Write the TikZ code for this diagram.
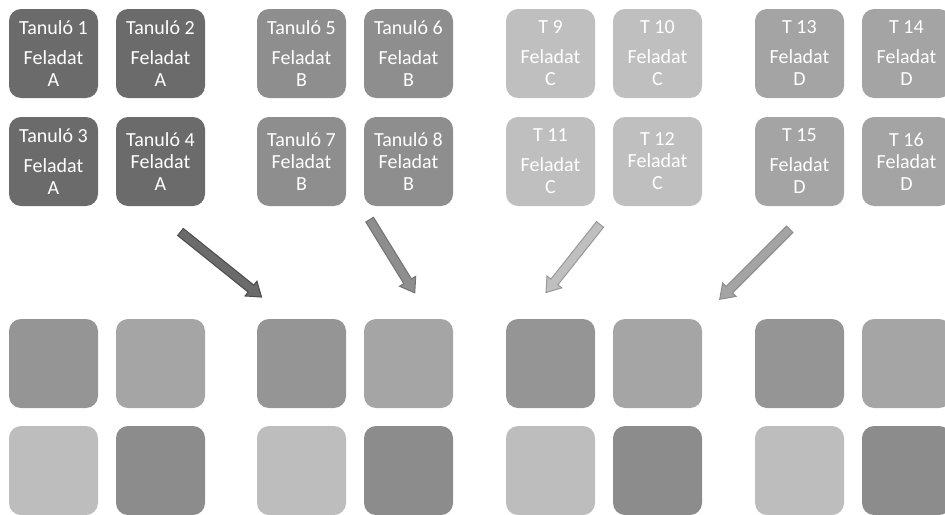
\documentclass[tikz,border=0pt]{standalone}
\usepackage{fontspec}
\setmainfont{Carlito}
\usetikzlibrary{shapes.arrows}
\definecolor{grpA}{HTML}{6B6B6B}
\definecolor{grpB}{HTML}{8E8E8E}
\definecolor{grpC}{HTML}{BFBFBF}
\definecolor{grpD}{HTML}{A4A4A4}
\definecolor{mixA}{HTML}{959595}
\definecolor{mixB}{HTML}{A5A5A5}
\definecolor{mixC}{HTML}{BDBDBD}
\definecolor{mixD}{HTML}{8C8C8C}
\tikzstyle{card}=[rounded corners=12pt, minimum width=89pt, minimum height=89pt, inner sep=0pt, text=white, align=center, font=\fontsize{20}{22}\selectfont]
\tikzstyle{blank}=[rounded corners=12pt, minimum width=89pt, minimum height=89pt, inner sep=0pt]
\tikzstyle{bigarrow}=[single arrow, single arrow head extend=5pt, single arrow tip angle=70, minimum width=18pt, inner xsep=0pt, inner ysep=4pt, line width=1pt, sloped, allow upside down, midway]

\begin{document}
\begin{tikzpicture}[x=1pt,y=-1pt]
  \clip (0,0) rectangle (945,514);

  % task A
  \begin{scope}[xshift=0pt]
  \node (t1) [card, fill=grpA] at (53.5,53.5) {Tanuló 1\\[8pt]Feladat\\A};
  \node (t2) [card, fill=grpA] at (160.5,53.5) {Tanuló 2\\[8pt]Feladat\\A};
  \node (t3) [card, fill=grpA] at (53.5,161.5) {Tanuló 3\\[8pt]Feladat\\A};
  \node (t4) [card, fill=grpA] at (160.5,161.5) {Tanuló 4\\Feladat\\A};
  \node (b1) [blank, fill=mixA] at (53.5,363.5) {};
  \node (b2) [blank, fill=mixB] at (160.5,363.5) {};
  \node (b3) [blank, fill=mixC] at (53.5,470.5) {};
  \node (b4) [blank, fill=mixD] at (160.5,470.5) {};
  \end{scope}

  % task B
  \begin{scope}[xshift=248pt]
  \node (t5) [card, fill=grpB] at (53.5,53.5) {Tanuló 5\\[8pt]Feladat\\B};
  \node (t6) [card, fill=grpB] at (160.5,53.5) {Tanuló 6\\[8pt]Feladat\\B};
  \node (t7) [card, fill=grpB] at (53.5,161.5) {Tanuló 7\\Feladat\\B};
  \node (t8) [card, fill=grpB] at (160.5,161.5) {Tanuló 8\\Feladat\\B};
  \node (b5) [blank, fill=mixA] at (53.5,363.5) {};
  \node (b6) [blank, fill=mixB] at (160.5,363.5) {};
  \node (b7) [blank, fill=mixC] at (53.5,470.5) {};
  \node (b8) [blank, fill=mixD] at (160.5,470.5) {};
  \end{scope}

  % task C
  \begin{scope}[xshift=497pt]
  \node (t9) [card, fill=grpC] at (53.5,53.5) {T 9\\[8pt]Feladat\\C};
  \node (t10) [card, fill=grpC] at (160.5,53.5) {T 10\\[8pt]Feladat\\C};
  \node (t11) [card, fill=grpC] at (53.5,161.5) {T 11\\[8pt]Feladat\\C};
  \node (t12) [card, fill=grpC] at (160.5,161.5) {T 12\\Feladat\\C};
  \node (b9) [blank, fill=mixA] at (53.5,363.5) {};
  \node (b10) [blank, fill=mixB] at (160.5,363.5) {};
  \node (b11) [blank, fill=mixC] at (53.5,470.5) {};
  \node (b12) [blank, fill=mixD] at (160.5,470.5) {};
  \end{scope}

  % task D
  \begin{scope}[xshift=746pt]
  \node (t13) [card, fill=grpD] at (53.5,53.5) {T 13\\[8pt]Feladat\\D};
  \node (t14) [card, fill=grpD] at (160.5,53.5) {T 14\\[8pt]Feladat\\D};
  \node (t15) [card, fill=grpD] at (53.5,161.5) {T 15\\[8pt]Feladat\\D};
  \node (t16) [card, fill=grpD] at (160.5,161.5) {T 16\\Feladat\\D};
  \node (b13) [blank, fill=mixA] at (53.5,363.5) {};
  \node (b14) [blank, fill=mixB] at (160.5,363.5) {};
  \node (b15) [blank, fill=mixC] at (53.5,470.5) {};
  \node (b16) [blank, fill=mixD] at (160.5,470.5) {};
  \end{scope}

  % arrows
  \coordinate (sA) at (178,230);
  \coordinate (eA) at (259,295);
  \coordinate (sB) at (368,217);
  \coordinate (eB) at (413,290);
  \coordinate (sC) at (602,222);
  \coordinate (eC) at (548,290);
  \coordinate (sD) at (792,227);
  \coordinate (eD) at (722,297);
  \path (sA) -- (eA) node [bigarrow, minimum height=104pt, fill=grpA, draw=black!70] {};
  \path (sB) -- (eB) node [bigarrow, minimum height=86pt, fill=grpB, draw=black!55] {};
  \path (sC) -- (eC) node [bigarrow, minimum height=87pt, fill=grpC, draw=black!40] {};
  \path (sD) -- (eD) node [bigarrow, minimum height=99pt, fill=grpD, draw=black!45] {};

\end{tikzpicture}
\end{document}
